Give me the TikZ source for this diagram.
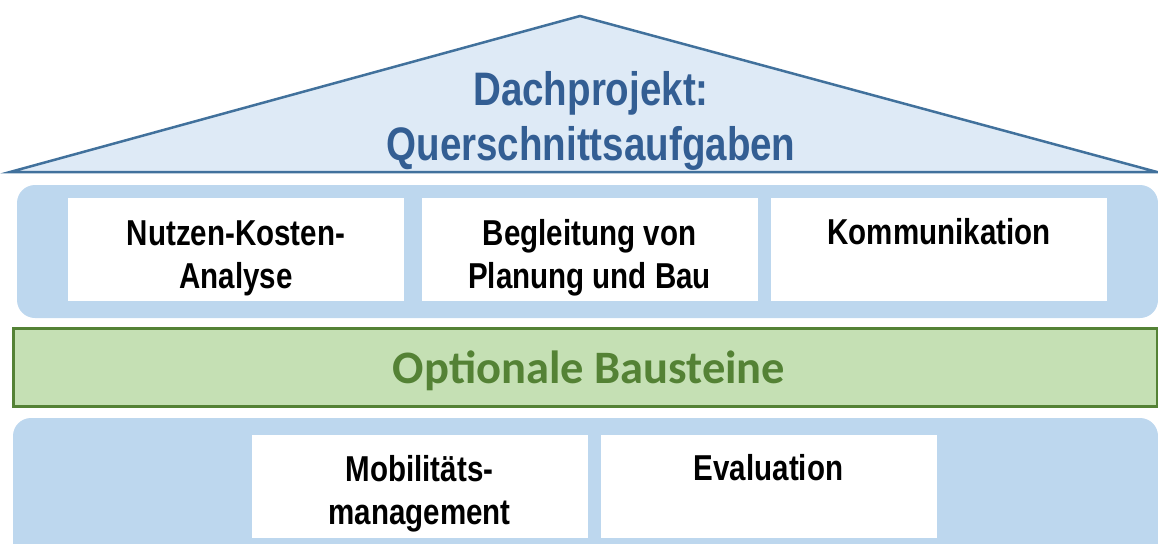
\documentclass[tikz,border=0pt]{standalone}
\usepackage{fontspec}
\newfontfamily\narrowsans{Liberation Sans}[FakeStretch=0.82]
\newfontfamily\calibrisans{Carlito}
\definecolor{roofFill}{HTML}{DEEAF6}
\definecolor{roofLine}{HTML}{41719C}
\definecolor{titleBlue}{HTML}{335E93}
\definecolor{bandBlue}{HTML}{BDD7EE}
\definecolor{greenFill}{HTML}{C5E0B4}
\definecolor{greenLine}{HTML}{548235}
\tikzset{
  wbox/.style={fill=white, draw=none, minimum width=336pt, minimum height=103pt, inner sep=0pt},
  boxtext/.style={font=\narrowsans\bfseries\fontsize{36}{43}\selectfont, align=center, inner sep=0pt, text=black},
  bandshape/.style={fill=bandBlue, draw=none, rounded corners=18pt},
}
\begin{document}
\begin{tikzpicture}[x=1pt,y=-1pt]
\useasboundingbox (0,0) rectangle (1158,543);
\clip (0,0) rectangle (1158,543);
% roof
\draw[fill=roofFill, draw=roofLine, line width=2.5pt, line join=miter] (10,172) -- (580,16) -- (1157,172) -- cycle;
\node[font=\narrowsans\bfseries\fontsize{47}{55}\selectfont, text=titleBlue, align=center, inner sep=0pt, anchor=base] (title) at (591,160) {Dachprojekt:\\Querschnittsaufgaben};
% top band
\fill[bandshape] (17,185) rectangle (1158,318);
\node[wbox] (b1) at (236,249.5) {};
\node[wbox] (b2) at (589.5,249.5) {};
\node[wbox] (b3) at (939,249.5) {};
\node[boxtext, anchor=base] (t1) at (b1.center |- 0,288) {Nutzen-Kosten-\\Analyse};
\node[boxtext, anchor=base] (t2) at (b2.center |- 0,288) {Begleitung von\\Planung und Bau};
\node[boxtext, anchor=base] (t3) at (b3.center |- 0,244) {Kommunikation};
% green band
\node[fill=greenFill, draw=greenLine, line width=3pt, minimum width=1144pt, minimum height=78pt, inner sep=0pt] (opt) at (585,367) {};
\node[font=\calibrisans\bfseries\fontsize{46.5}{50}\selectfont, text=greenLine, inner sep=0pt, anchor=base] (optt) at (589,383) {Optionale Bausteine};
% bottom band
\fill[bandshape] (13,418) rectangle (1158,600);
\node[wbox] (b4) at (419.5,486) {};
\node[wbox] (b5) at (768.5,486) {};
\node[boxtext, anchor=base] (t4) at (b4.center |- 0,524) {Mobilitäts-\\management};
\node[boxtext, anchor=base] (t5) at (b5.center |- 0,480) {Evaluation};
\end{tikzpicture}
\end{document}
